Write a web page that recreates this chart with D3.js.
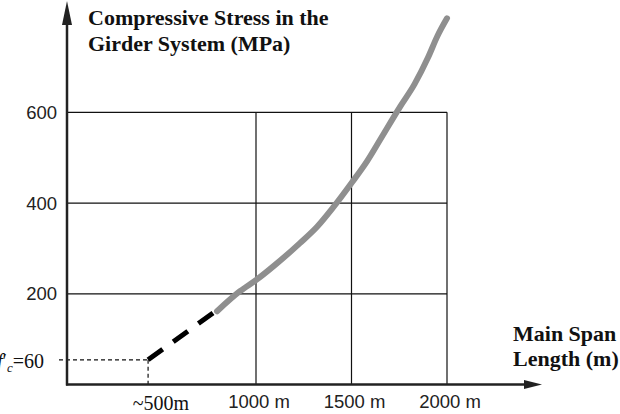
<!DOCTYPE html>
<html>
<head>
<meta charset="utf-8">
<script src="https://cdn.jsdelivr.net/npm/d3@7"></script>
<style>
  body { margin: 0; background: #fff; }
  svg { display: block; }
  .tick-label { font-family: "Liberation Sans", Arial, sans-serif; font-size: 18.5px; fill: #222; }
  .title { font-family: "Liberation Serif", "Times New Roman", serif; font-size: 22px; font-weight: bold; fill: #111; }
  .serif { font-family: "Liberation Serif", "Times New Roman", serif; font-size: 20px; fill: #111; }
</style>
</head>
<body>
<svg id="chart" width="620" height="414"></svg>
<script>
// chart data
var spanTicks = [1000, 1500, 2000];
var spanTickLabels = ['1000 m', '1500 m', '2000 m'];
var stressTicks = [200, 400, 600];

// dashed start segment
var dashSpan = [435, 775];
var dashStress = [55, 158];

// solid grey curve
var curveSpan = [796, 916, 1005, 1100, 1230, 1320, 1403, 1503, 1581, 1649, 1754, 1830, 1900, 1950, 2000];
var curveStress = [162, 206, 232, 264, 312, 348, 390, 446, 492, 539, 612, 662, 720, 768, 807];

var svg = d3.select('#chart');

var x = d3.scaleLinear().domain([0, 2000]).range([65, 447]);
var y = d3.scaleLinear().domain([0, 600]).range([384.8, 112.3]);

var axisX = 67, axisY = 384.5;

// grid lines
var grid = svg.append('g').attr('stroke', '#111').attr('stroke-width', 1.2);
grid.selectAll('line.v')
  .data(spanTicks)
  .enter().append('line')
  .attr('x1', function(d) { return x(d); })
  .attr('x2', function(d) { return x(d); })
  .attr('y1', y(600))
  .attr('y2', axisY);
grid.selectAll('line.h')
  .data(stressTicks)
  .enter().append('line')
  .attr('x1', axisX)
  .attr('x2', x(2000))
  .attr('y1', function(d) { return y(d); })
  .attr('y2', function(d) { return y(d); });

// tick labels
svg.selectAll('text.ylab')
  .data(stressTicks)
  .enter().append('text')
  .attr('class', 'tick-label')
  .attr('x', 57)
  .attr('y', function(d) { return y(d) + 6.5; })
  .attr('text-anchor', 'end')
  .text(function(d) { return d; });

svg.selectAll('text.xlab')
  .data(spanTicks)
  .enter().append('text')
  .attr('class', 'tick-label')
  .attr('x', function(d) { return x(d) + 3; })
  .attr('y', 408)
  .attr('text-anchor', 'middle')
  .text(function(d, i) { return spanTickLabels[i]; });

// guide lines to the start point
var p0x = x(dashSpan[0]), p0y = y(dashStress[0]);
svg.append('line')
  .attr('x1', 59).attr('x2', p0x)
  .attr('y1', p0y).attr('y2', p0y)
  .attr('stroke', '#111').attr('stroke-width', 1.2)
  .attr('stroke-dasharray', '4,3');
svg.append('line')
  .attr('x1', p0x).attr('x2', p0x)
  .attr('y1', p0y).attr('y2', axisY)
  .attr('stroke', '#111').attr('stroke-width', 1.2)
  .attr('stroke-dasharray', '4,3');

// labels for the start point (the f runs off the left edge, as in the source)
var fc = svg.append('text').attr('class', 'serif').attr('x', 44).attr('y', 368).attr('text-anchor', 'end');
fc.append('tspan').style('font-style', 'italic').text('f');
fc.append('tspan').text('\u2032');
fc.append('tspan').style('font-style', 'italic').style('font-size', '13px').attr('dy', 4).text('c');
fc.append('tspan').attr('dy', -4).text('=60');

svg.append('text').attr('class', 'serif')
  .attr('x', 161).attr('y', 410)
  .attr('text-anchor', 'middle')
  .text('~500m');

// dashed black segment
var line = d3.line()
  .x(function(d) { return x(d[0]); })
  .y(function(d) { return y(d[1]); });

svg.append('path')
  .datum(d3.zip(dashSpan, dashStress))
  .attr('d', line)
  .attr('fill', 'none')
  .attr('stroke', '#000')
  .attr('stroke-width', 5)
  .attr('stroke-dasharray', '18,13');

// grey curve
svg.append('path')
  .datum(d3.zip(curveSpan, curveStress))
  .attr('d', line.curve(d3.curveMonotoneX))
  .attr('fill', 'none')
  .attr('stroke', '#8f8f8f')
  .attr('stroke-width', 6)
  .attr('stroke-linecap', 'round')
  .attr('stroke-linejoin', 'round');

// axes with arrows
svg.append('line')
  .attr('x1', axisX).attr('x2', axisX)
  .attr('y1', axisY + 1).attr('y2', 20)
  .attr('stroke', '#222').attr('stroke-width', 2.5);
svg.append('path')
  .attr('d', 'M' + axisX + ',1 L' + (axisX - 5) + ',25 L' + (axisX + 5) + ',25 Z')
  .attr('fill', '#222');

svg.append('line')
  .attr('x1', axisX - 1).attr('x2', 528)
  .attr('y1', axisY).attr('y2', axisY)
  .attr('stroke', '#222').attr('stroke-width', 2.5);
svg.append('path')
  .attr('d', 'M542,' + axisY + ' L524,' + (axisY - 4.5) + ' L524,' + (axisY + 4.5) + ' Z')
  .attr('fill', '#222');

// axis titles
var yt = svg.append('text').attr('class', 'title');
yt.append('tspan').attr('x', 88).attr('y', 25).text('Compressive Stress in the');
yt.append('tspan').attr('x', 88).attr('y', 51).text('Girder System (MPa)');

var xt = svg.append('text').attr('class', 'title');
xt.append('tspan').attr('x', 513).attr('y', 341).text('Main Span');
xt.append('tspan').attr('x', 513).attr('y', 366).text('Length (m)');
</script>
</body>
</html>
